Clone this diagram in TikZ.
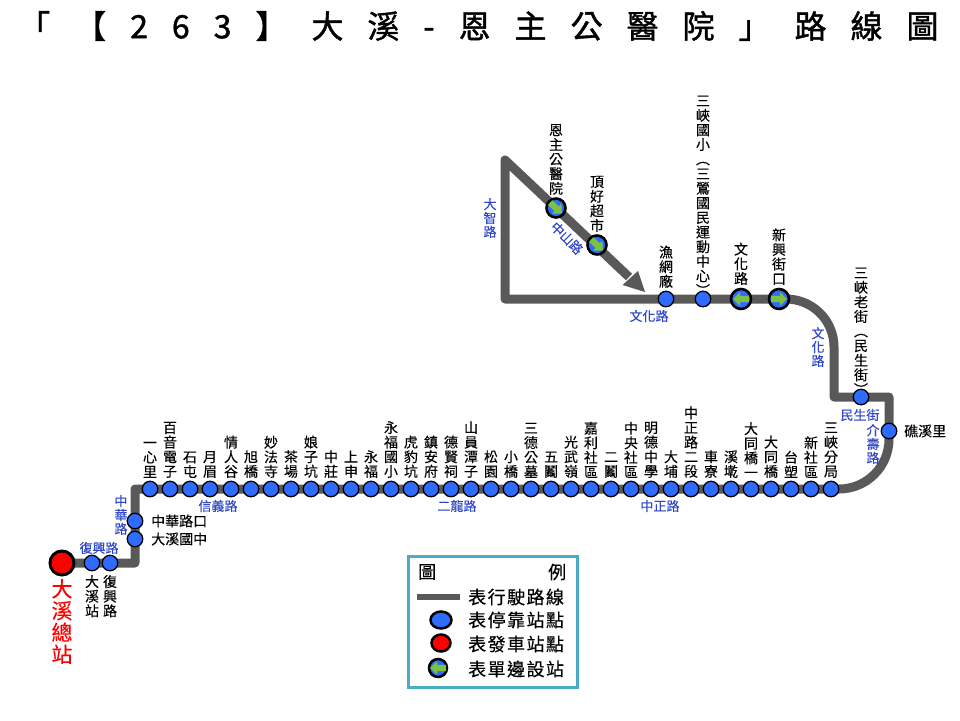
\documentclass[tikz,border=0pt]{standalone}
\usepackage{fontspec}
\setmainfont[FakeBold=0.2]{Noto Sans CJK TC}
\newfontfamily\titlefont[LetterSpace=75,FakeBold=1.3]{Noto Sans CJK TC}
\newfontfamily\legfont[LetterSpace=8,FakeBold=0.3]{Noto Sans CJK TC}
\usetikzlibrary{arrows.meta}
\definecolor{routegray}{HTML}{595959}
\definecolor{stopblue}{HTML}{2F6BFF}
\definecolor{roadblue}{HTML}{3048C8}
\definecolor{arrowgreen}{HTML}{7CC242}
\definecolor{frameteal}{HTML}{4BACC6}
\tikzset{
  x=1pt,y=-1pt,
  route/.style={draw=routegray,line width=9pt,line join=round},
  stop/.style={circle,draw=black,fill=stopblue,line width=1.3pt,minimum size=15.5pt,inner sep=0pt},
  oneway/.style={circle,draw=black,fill=stopblue,line width=2.6pt,minimum size=20pt,inner sep=0pt},
  origin stop/.style={circle,draw=black,fill=red,line width=3pt,minimum size=24pt,inner sep=0pt},
  garrow/.style={draw=none,fill=arrowgreen},
  lab/.style={font=\fontsize{14}{14.6}\selectfont,align=center,inner sep=0pt,text=black},
  uplab/.style={lab,anchor=south,yshift=11pt},
  sidelab/.style={font=\fontsize{14}{14.6}\selectfont,inner sep=0pt,anchor=west,text=black},
  road/.style={font=\fontsize{13}{13.8}\selectfont,align=center,inner sep=0pt,text=roadblue},
  legtext/.style={font=\fontsize{18}{18}\selectfont\legfont,inner sep=0pt,anchor=west,text=black}
}
\newcommand{\mainstop}[3]{\node[stop] (#1) at (#2,489) {}; \node[uplab] at (#1.center) {#3};}
\newcommand{\owarrow}[2]{\begin{scope}[shift={(#1)},rotate=#2]\fill[garrow] (-8,-3.2)--(1,-3.2)--(1,-6.8)--(8,0)--(1,6.8)--(1,3.2)--(-8,3.2)--cycle;\end{scope}}
\begin{document}
\begin{tikzpicture}
\useasboundingbox (0,0) rectangle (960,720);
\node[inner sep=0pt,anchor=west,font=\fontsize{32}{32}\selectfont\titlefont] (title) at (18,26) {「【263】大溪-恩主公醫院」路線圖};
% route
\coordinate (rStart) at (62,563);
\coordinate (rA) at (135,563);
\coordinate (rB) at (135,489);
\coordinate (rC) at (839,489);
\coordinate (rE) at (889,397);
\coordinate (rF) at (834,397);
\coordinate (rG) at (834,347);
\coordinate (rI) at (505,299);
\coordinate (rJ) at (505,160);
\coordinate (rK) at (629,277);
\draw[route] (rStart)--(rA)--(rB)--(rC) arc[start angle=270,end angle=360,radius=50pt] --(rE)--(rF)--(rG) arc[start angle=0,end angle=90,radius=48pt] --(rI)--(rJ)--(rK);
\fill[routegray] (645,292)--(622.5,285)--(638,271)--cycle;
% main line stops
\mainstop{s1}{150}{一\\心\\里}
\mainstop{s2}{170}{百\\音\\電\\子}
\mainstop{s3}{190}{石\\屯}
\mainstop{s4}{210}{月\\眉}
\mainstop{s5}{231}{情\\人\\谷}
\mainstop{s6}{251}{旭\\橋}
\mainstop{s7}{271}{妙\\法\\寺}
\mainstop{s8}{291}{茶\\場}
\mainstop{s9}{311}{娘\\子\\坑}
\mainstop{s10}{331}{中\\莊}
\mainstop{s11}{351}{上\\申}
\mainstop{s12}{371}{永\\福}
\mainstop{s13}{391}{永\\福\\國\\小}
\mainstop{s14}{411}{虎\\豹\\坑}
\mainstop{s15}{431}{鎮\\安\\府}
\mainstop{s16}{451}{德\\賢\\祠}
\mainstop{s17}{471}{山\\員\\潭\\子}
\mainstop{s18}{491}{松\\園}
\mainstop{s19}{511}{小\\橋}
\mainstop{s20}{531}{三\\德\\公\\墓}
\mainstop{s21}{551}{五\\鬮}
\mainstop{s22}{571}{光\\武\\嶺}
\mainstop{s23}{591}{嘉\\利\\社\\區}
\mainstop{s24}{611}{二\\鬮}
\mainstop{s25}{631}{中\\央\\社\\區}
\mainstop{s26}{651}{明\\德\\中\\學}
\mainstop{s27}{671}{大\\埔}
\mainstop{s28}{691}{中\\正\\路\\二\\段}
\mainstop{s29}{711}{車\\寮}
\mainstop{s30}{731}{溪\\墘}
\mainstop{s31}{751}{大\\同\\橋\\一}
\mainstop{s32}{771}{大\\同\\橋}
\mainstop{s33}{791}{台\\塑}
\mainstop{s34}{811}{新\\社\\區}
\mainstop{s35}{831}{三\\峽\\分\\局}
% other stops
\node[origin stop] (start) at (rStart) {};
\node[font=\fontsize{21}{21.8}\selectfont,align=center,inner sep=0pt,text=red,anchor=north] (startlab) at (62,579) {大\\溪\\總\\站};
\node[stop] (t1) at (92,563) {};
\node[lab,anchor=north] (t1l) at (92,575) {大\\溪\\站};
\node[stop] (t2) at (110,563) {};
\node[lab,anchor=north] (t2l) at (110,575) {復\\興\\路};
\node[stop] (h1) at (135,521) {};
\node[sidelab] (h1l) at (151,521) {中華路口};
\node[stop] (h2) at (135,539) {};
\node[sidelab] (h2l) at (151,539) {大溪國中};
\node[stop] (j1) at (889,431) {};
\node[sidelab] (j1l) at (904,431) {礁溪里};
\node[uplab,yshift=-9pt] (m1l) at (861,397) {三\\峽\\老\\街\\︵\\民\\生\\街\\︶};
\node[stop] (m1) at (861,397) {};
\node[stop] (n1) at (666,299) {};
\node[uplab] (n1l) at (666,299) {漁\\網\\廠};
\node[uplab,yshift=-8pt] (n2l) at (703,299) {三\\峽\\國\\小\\︵\\三\\鶯\\國\\民\\運\\動\\中\\心\\︶};
\node[stop] (n2) at (703,299) {};
\node[oneway] (w1) at (741,299) {};
\owarrow{w1}{180}
\node[uplab,yshift=3pt] (w1l) at (741,299) {文\\化\\路};
\node[oneway] (w2) at (779,299) {};
\owarrow{w2}{0}
\node[uplab,yshift=3pt] (w2l) at (779,299) {新\\興\\街\\口};
\node[oneway,minimum size=19pt] (w3) at (556,208) {};
\owarrow{w3}{-43}
\node[uplab,yshift=2pt] (w3l) at (556,208) {恩\\主\\公\\醫\\院};
\node[oneway,minimum size=19pt] (w4) at (597,245) {};
\owarrow{w4}{-43}
\node[uplab,yshift=2pt] (w4l) at (597,245) {頂\\好\\超\\市};
% road names
\node[road] (r1) at (490,218) {大\\智\\路};
\node[road,rotate=-45] (r2) at (567,238) {中山路};
\node[road] (r3) at (649,316) {文化路};
\node[road] (r4) at (818,347) {文\\化\\路};
\node[road] (r5) at (860,415) {民生街};
\node[road] (r6) at (873,444) {介\\壽\\路};
\node[road] (r7) at (218,506) {信義路};
\node[road] (r8) at (457,506) {二龍路};
\node[road] (r9) at (660,506) {中正路};
\node[road] (r10) at (121,515) {中\\華\\路};
\node[road] (r11) at (99,548) {復興路};
% legend
\node[draw=frameteal,line width=3pt,fill=white,outer sep=0pt,minimum width=169.5pt,minimum height=131pt,inner sep=0pt,anchor=north west] (legend) at (408,556.5) {};
\node[legtext] (l0a) at (418,572) {圖};
\node[legtext] (l0b) at (548,572) {例};
\coordinate (lg1) at (417,597);
\coordinate (lg2) at (460,597);
\draw[draw=routegray,line width=6pt] (lg1)--(lg2);
\node[legtext] (l1) at (468,597) {表行駛路線};
\draw[black,fill=stopblue,line width=2.5pt] (441,620) ellipse[x radius=10.5pt,y radius=8.5pt];
\node[legtext] (l2) at (468,620) {表停靠站點};
\draw[black,fill=red,line width=2.5pt] (441,643) ellipse[x radius=9.5pt,y radius=8.5pt];
\node[legtext] (l3) at (468,644) {表發車站點};
\draw[black,fill=stopblue,line width=2.5pt] (438,668) circle[radius=9pt];
\coordinate (lw) at (438,668);
\owarrow{lw}{180}
\node[legtext] (l4) at (468,669) {表單邊設站};
\end{tikzpicture}
\end{document}
